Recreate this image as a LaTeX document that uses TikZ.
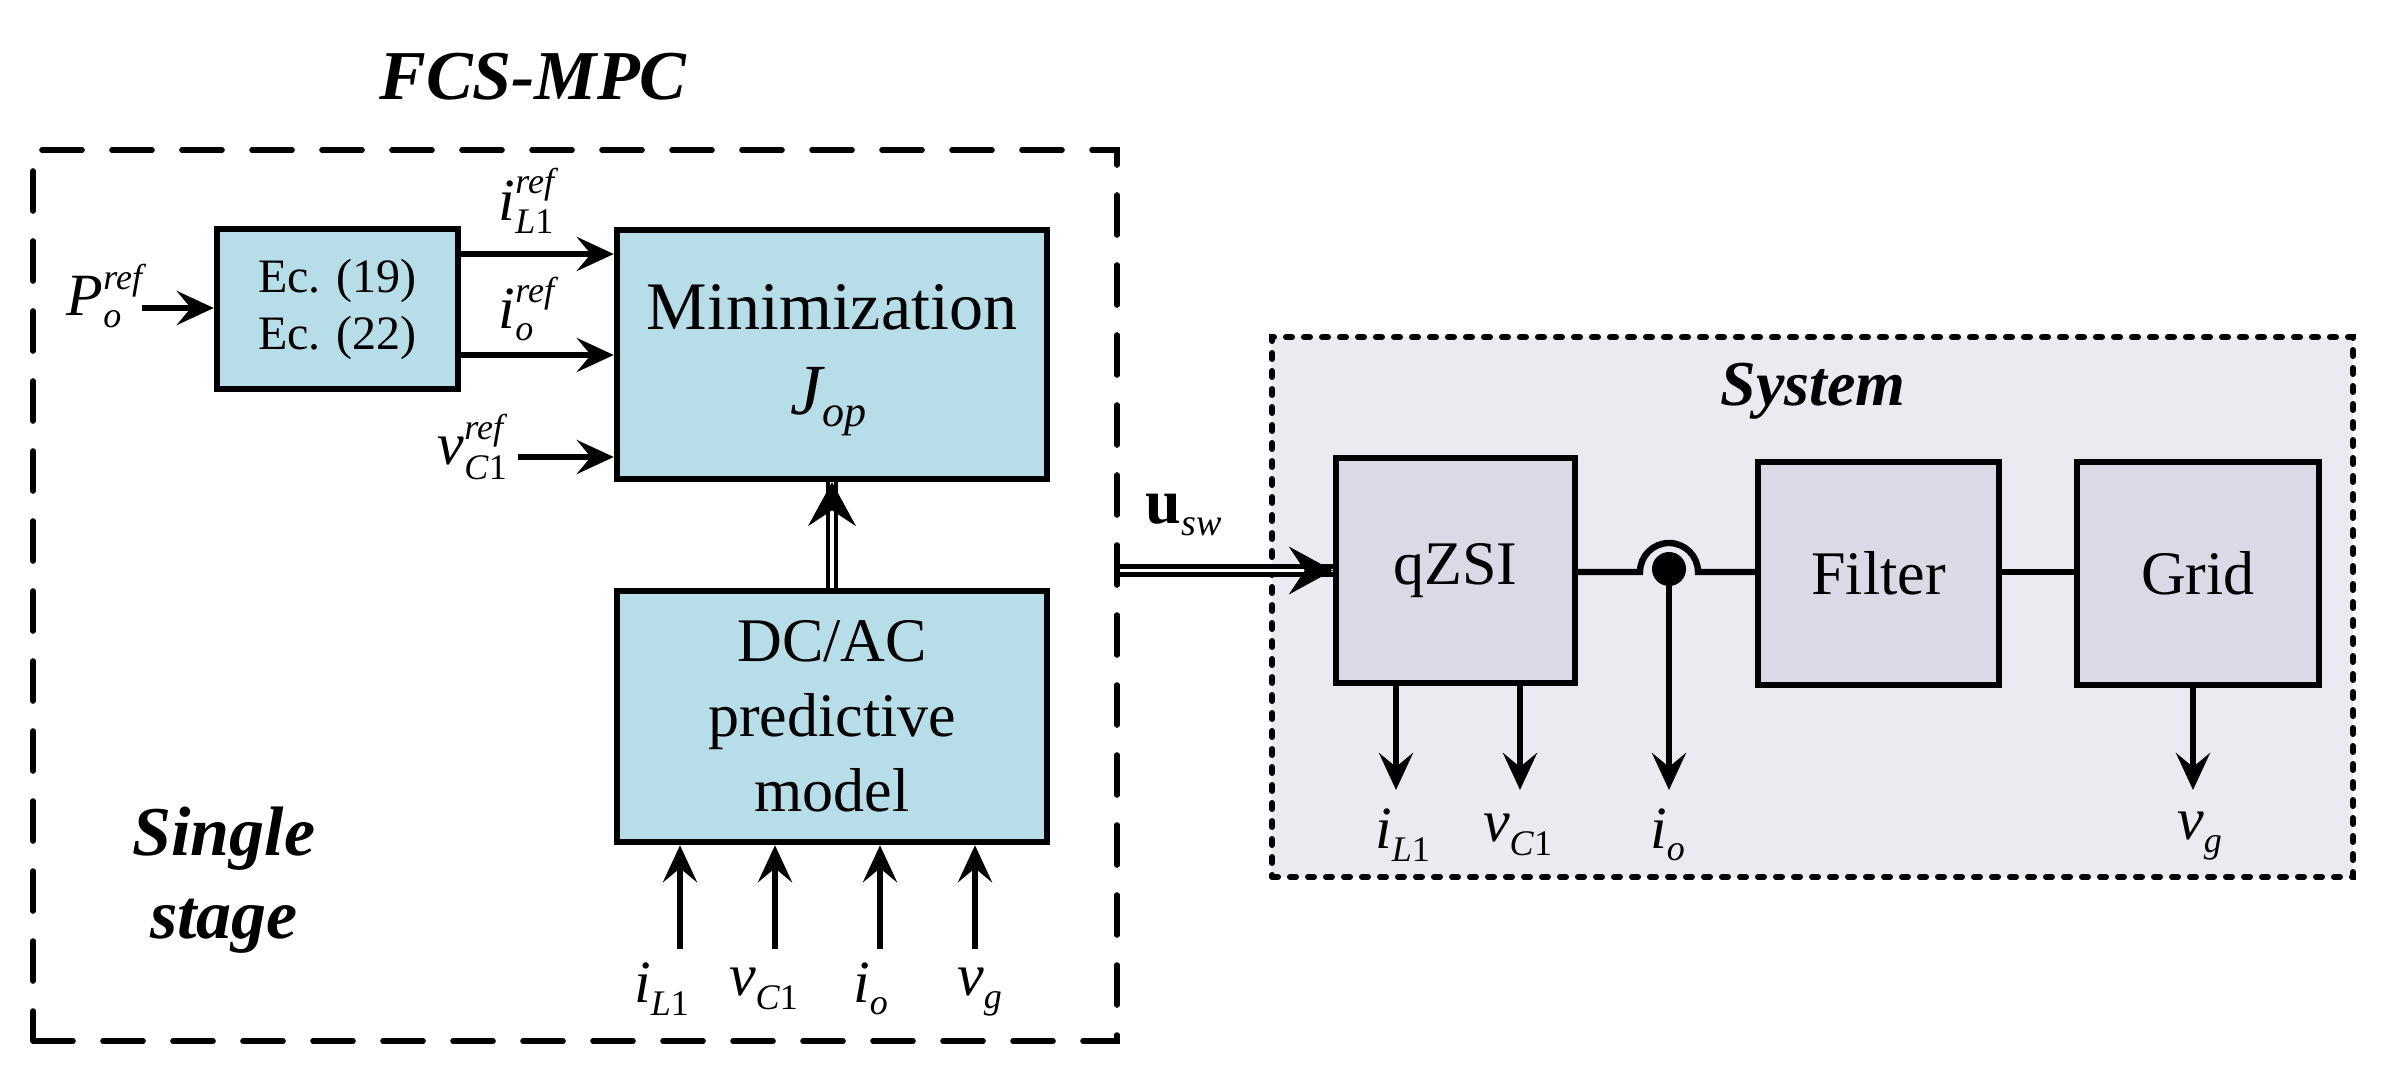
\documentclass[tikz,border=0pt]{standalone}
\usepackage{fontspec}
\usepackage{amsmath}
\setmainfont{Liberation Serif}
\usetikzlibrary{arrows.meta,calc}
\DeclareMathSizes{30}{30}{18}{13}
\DeclareMathSizes{32}{32}{19}{14}
\DeclareMathSizes{36}{36}{22}{16}
\definecolor{boxblue}{HTML}{B7DDE8}
\definecolor{sysbg}{HTML}{ECE9F1}
\definecolor{sysbox}{HTML}{DDD8E6}
\newcommand{\mlbl}[3]{$\textit{#1}_{\text{#2}}^{\text{\textit{#3}}}$}
\newcommand{\slbl}[2]{$\textit{#1}_{\text{#2}}^{}$}
\tikzset{
  blk/.style={draw, line width=3.2pt, fill=boxblue, inner sep=0pt},
  sblk/.style={draw, line width=3.2pt, fill=sysbox, inner sep=0pt, font=\fontsize{31}{37}\selectfont},
  arr/.style={line width=3.2pt, -{Stealth[length=18.5pt,width=17pt,inset=7pt]}},
  ln/.style={line width=3.2pt},
  dbl/.style={double, line width=2.3pt, double distance=1.8pt},
  dtip/.style={line width=0.4pt, -{Stealth[length=22pt,width=24pt,inset=8pt]}},
  lbl/.style={inner sep=0pt, font=\fontsize{30}{34}\selectfont},
  ttl/.style={inner sep=0pt, font=\fontsize{35}{40}\selectfont\bfseries\itshape},
  fcsframe/.style={draw, line width=2.8pt, dash pattern=on 20pt off 15pt, line cap=round, inner sep=0pt},
  sysframe/.style={draw, fill=sysbg, line width=3pt, dash pattern=on 3pt off 6pt, line cap=round, inner sep=0pt},
}
\begin{document}
\begin{tikzpicture}[x=0.5pt,y=-0.5pt]
\useasboundingbox (0,0) rectangle (2384,1070);
% frames
\node[fcsframe, minimum width=542pt, minimum height=445.5pt] (fcs) at (575,595.5) {};
\node[sysframe, minimum width=540.5pt, minimum height=270pt] (sys) at (1812.5,607) {};
% titles
\node[ttl] (title) at (533,77) {FCS-MPC};
\node[ttl, anchor=base] (single) at (224,855) {Single};
\node[ttl, anchor=base] (stage) at (224,938) {stage};
\node[ttl, font=\fontsize{32}{38}\selectfont\bfseries\itshape] (systxt) at (1813,391) {System};
% controller blocks
\node[blk, minimum width=120.5pt, minimum height=80pt, align=center, font=\fontsize{24}{28.5}\selectfont] (ec) at (337.5,309) {Ec. (19)\\Ec. (22)};
\node[blk, minimum width=215pt, minimum height=124.5pt] (min) at (832,354.5) {};
\node[anchor=base, inner sep=0pt, font=\fontsize{34}{40}\selectfont] (mintxt) at (832,329) {Minimization};
\node[anchor=base, inner sep=0pt, font=\fontsize{36}{40}\selectfont] (jop) at (829,414) {$\textit{J}_{\text{\textit{op}}}^{}$};
\node[blk, minimum width=215pt, minimum height=125.5pt, align=center, font=\fontsize{31}{37.5}\selectfont] (dc) at (832,716.5) {DC/AC\\predictive\\model};
% reference inputs
\coordinate (pin) at (142,308);
\draw[arr] (pin) -- (pin -| ec.west);
\node[lbl] (plbl) at (107,296) {\mlbl{P}{\textit{o}}{ref}};
\coordinate (a1) at (458,254);
\coordinate (a2) at (458,355);
\coordinate (a3) at (518,457);
\draw[arr] (ec.east |- a1) -- (min.west |- a1);
\draw[arr] (ec.east |- a2) -- (min.west |- a2);
\draw[arr] (a3) -- (min.west |- a3);
\node[lbl] (r1) at (529,201) {\mlbl{i}{\textit{L}1}{ref}};
\node[lbl] (r2) at (529,309) {\mlbl{i}{\textit{o}}{ref}};
\node[lbl] (r3) at (473,447) {\mlbl{v}{\textit{C}1}{ref}};
% model to minimization
\draw[dbl] (dc.north) -- (min.south);
\draw[dtip] ($(min.south)+(0,2)$) -- (min.south);
% measurement inputs
\coordinate (m1) at (680,949);
\coordinate (m2) at (775,949);
\coordinate (m3) at (880,949);
\coordinate (m4) at (975,949);
\foreach \m in {m1,m2,m3,m4} \draw[arr] (\m) -- (\m |- dc.south);
\node[lbl] (b1) at (662,989) {\slbl{i}{\textit{L}1}};
\node[lbl] (b2) at (764,989) {\slbl{v}{\textit{C}1}};
\node[lbl] (b3) at (871,989) {\slbl{i}{\textit{o}}};
\node[lbl] (b4) at (980,992) {\slbl{v}{\textit{g}}};
% system blocks
\node[sblk, minimum width=119.5pt, minimum height=112.5pt] (qz) at (1455.5,570.5) {qZSI};
\node[sblk, minimum width=120.5pt, minimum height=111.5pt] (filter) at (1878.5,573.5) {Filter};
\node[sblk, minimum width=121pt, minimum height=111.5pt] (grid) at (2198,573.5) {Grid};
% switching signal
\draw[dbl] (fcs.east |- qz.west) -- (qz.west);
\draw[dtip] ($(qz.west)+(-2,0)$) -- (qz.west);
\node[lbl, font=\fontsize{32}{36}\selectfont] (usw) at (1184,515) {$\textbf{u}_{\text{\textit{sw}}}^{}$};
% connections with jumper
\coordinate (j1) at (1640,572);
\draw[ln] (qz.east |- j1) -- (j1) arc[start angle=180, end angle=360, radius=29] -- (filter.west |- j1);
\draw[ln] (filter.east |- j1) -- (grid.west |- j1);
\node[circle, fill, minimum size=17pt, inner sep=0pt] (dot) at (1669,569) {};
% measurements
\coordinate (o1) at (1396,790);
\coordinate (o2) at (1520,790);
\coordinate (o3) at (1669,790);
\coordinate (o4) at (2193,790);
\draw[arr] (o1 |- qz.south) -- (o1);
\draw[arr] (o2 |- qz.south) -- (o2);
\draw[arr] (dot.center) -- (o3);
\draw[arr] (o4 |- grid.south) -- (o4);
\node[lbl] (s1) at (1403,835) {\slbl{i}{\textit{L}1}};
\node[lbl] (s2) at (1518,835) {\slbl{v}{\textit{C}1}};
\node[lbl] (s3) at (1668,835) {\slbl{i}{\textit{o}}};
\node[lbl] (s4) at (2200,836) {\slbl{v}{\textit{g}}};
\end{tikzpicture}
\end{document}
